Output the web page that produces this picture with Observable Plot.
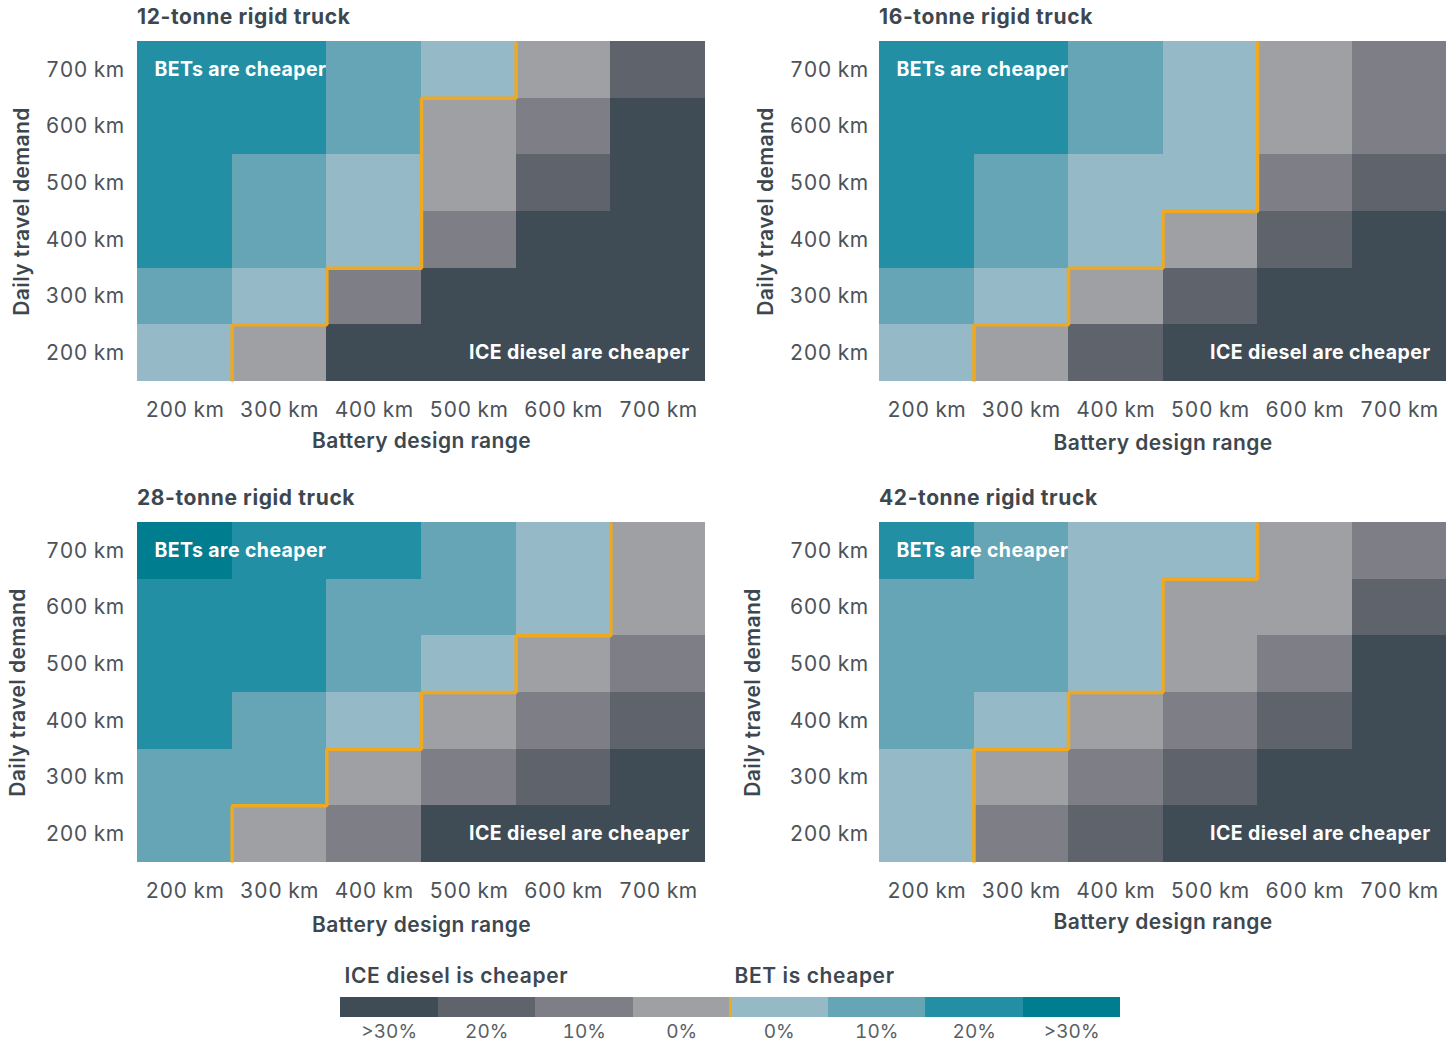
<!DOCTYPE html>
<html><head><meta charset="utf-8">
<script src="https://cdn.jsdelivr.net/npm/d3@7"></script>
<script src="https://cdn.jsdelivr.net/npm/@observablehq/plot@0.6"></script>
<style>
body{margin:0;background:#fff;font-family:Inter,sans-serif;}
#root{position:relative;width:1456px;height:1044px;overflow:hidden;}
.panel{position:absolute;}
.panel svg, #legend svg{display:block;}
.title{position:absolute;font-weight:700;font-size:21px;letter-spacing:0.6px;color:#3d4750;white-space:nowrap;line-height:24px;}
#legend{position:absolute;left:0;top:960px;}
</style></head><body><div id="root"></div>
<script>
// Battery design range (x) and daily travel demand (y), km
const ranges = [200, 300, 400, 500, 600, 700];
// Cost-difference classes: negative = ICE diesel cheaper, positive = BET cheaper
const levelCodes = [-4, -3, -2, -1, 1, 2, 3, 4];
const levelLabels = [">30%", "20%", "10%", "0%", "0%", "10%", "20%", ">30%"];
const levelColors = ["#3f4b55", "#5f636b", "#7e7e87", "#9fa0a4", "#96b9c8", "#65a5b5", "#238fa4", "#007d8f"];
const legendTitles = ["ICE diesel is cheaper", "BET is cheaper"];
const panelTitles = ["12-tonne rigid truck", "16-tonne rigid truck", "28-tonne rigid truck", "42-tonne rigid truck"];

// rows from 700 km demand (top) down to 200 km; columns battery 200..700 km
const truck12 = [
  [3, 3, 2, 1, -1, -3],
  [3, 3, 2, -1, -2, -4],
  [3, 2, 1, -1, -3, -4],
  [3, 2, 1, -2, -4, -4],
  [2, 1, -2, -4, -4, -4],
  [1, -1, -4, -4, -4, -4]
];
const truck16 = [
  [3, 3, 2, 1, -1, -2],
  [3, 3, 2, 1, -1, -2],
  [3, 2, 1, 1, -2, -3],
  [3, 2, 1, -1, -3, -4],
  [2, 1, -1, -3, -4, -4],
  [1, -1, -3, -4, -4, -4]
];
const truck28 = [
  [4, 3, 3, 2, 1, -1],
  [3, 3, 2, 2, 1, -1],
  [3, 3, 2, 1, -1, -2],
  [3, 2, 1, -1, -2, -3],
  [2, 2, -1, -2, -3, -4],
  [2, -1, -2, -4, -4, -4]
];
const truck42 = [
  [3, 2, 1, 1, -1, -2],
  [2, 2, 1, -1, -1, -3],
  [2, 2, 1, -1, -2, -4],
  [2, 1, -1, -2, -3, -4],
  [1, -1, -2, -3, -4, -4],
  [1, -2, -3, -4, -4, -4]
];

const ORANGE = "#f0a91e";
const DARK = "#3d4750";
const TICK = "#4d5359";
const FONT = "Inter";

function panel(values, o) {
  const step = ranges[1] - ranges[0];
  const cells = [];
  values.forEach((row, i) => {
    const demand = ranges[ranges.length - 1 - i];
    row.forEach((v, j) => cells.push({battery: ranges[j], demand, level: v}));
  });
  const boundary = [];
  ranges.forEach(d => {
    const n = cells.filter(c => c.demand === d && c.level > 0).length;
    const xb = ranges[0] - step / 2 + n * step;
    boundary.push({x: xb, y: d - step / 2}, {x: xb, y: d + step / 2});
  });
  const lo = ranges[0] - step / 2, hi = ranges[ranges.length - 1] + step / 2;
  return Plot.plot({
    width: 728, height: 470,
    marginTop: 41, marginBottom: 89, marginLeft: o.ml, marginRight: o.mr,
    style: {fontFamily: FONT, background: "transparent", letterSpacing: "0.4px"},
    x: {domain: [lo, hi]},
    y: {domain: [lo, hi]},
    color: {type: "ordinal", domain: levelCodes, range: levelColors},
    marks: [
      Plot.rect(cells, {x1: d => d.battery - step / 2, x2: d => d.battery + step / 2,
        y1: d => d.demand - step / 2, y2: d => d.demand + step / 2, fill: "level", shapeRendering: "crispEdges"}),
      Plot.line(boundary, {x: "x", y: "y", stroke: ORANGE, strokeWidth: 3.5, strokeLinejoin: "miter", strokeLinecap: "butt"}),
      Plot.text(["BETs are cheaper"], {x: lo, y: ranges[ranges.length - 1], textAnchor: "start", dx: 17, fill: "white", fontWeight: 700, fontSize: 19.5}),
      Plot.text(["ICE diesel are cheaper"], {x: hi, y: ranges[0], textAnchor: "end", dx: -16, fill: "white", fontWeight: 700, fontSize: 19.5}),
      Plot.axisX({ticks: ranges, tickFormat: d => `${d} km`, tickSize: 0, tickPadding: 21, fontSize: 21, fill: TICK, label: null}),
      Plot.axisY({ticks: ranges, tickFormat: d => `${d} km`, tickSize: 0, tickPadding: o.tp, fontSize: 21, fill: TICK, label: null}),
      Plot.text(["Battery design range"], {frameAnchor: "bottom", dy: o.xdy, fontSize: 21, fontWeight: 600, fill: DARK}),
      Plot.text(["Daily travel demand"], {frameAnchor: "left", textAnchor: "middle", dx: o.ydx, rotate: -90, fontSize: 21, fontWeight: 600, fill: DARK})
    ]
  });
}

const root = document.getElementById("root");
const specs = [
  {data: truck12, left: 0, top: 0, ml: 137, mr: 23, tp: 13, xdy: 66, ydx: -115},
  {data: truck16, left: 728, top: 0, ml: 151, mr: 10, tp: 11, xdy: 68, ydx: -113},
  {data: truck28, left: 0, top: 481, ml: 137, mr: 23, tp: 13, xdy: 69, ydx: -119},
  {data: truck42, left: 728, top: 481, ml: 151, mr: 10, tp: 11, xdy: 66, ydx: -126}
];
specs.forEach((s, i) => {
  const div = document.createElement("div");
  div.className = "panel";
  div.style.left = s.left + "px";
  div.style.top = s.top + "px";
  div.appendChild(panel(s.data, s));
  const t = document.createElement("div");
  t.className = "title";
  t.textContent = panelTitles[i];
  t.style.left = s.ml + "px";
  t.style.top = "5px";
  div.appendChild(t);
  root.appendChild(div);
});

// Legend
const legendData = levelCodes.map((c, i) => ({i, code: c, label: levelLabels[i]}));
const split = levelCodes.findIndex(c => c > 0);
const legend = Plot.plot({
  width: 1456, height: 84,
  marginTop: 37, marginBottom: 27, marginLeft: 340, marginRight: 336,
  style: {fontFamily: FONT, background: "transparent"},
  x: {domain: [0, levelCodes.length]},
  color: {type: "ordinal", domain: levelCodes, range: levelColors},
  marks: [
    Plot.rect(legendData, {x1: d => d.i, x2: d => d.i + 1, fill: "code", shapeRendering: "crispEdges"}),
    Plot.ruleX([split], {stroke: ORANGE, strokeWidth: 3}),
    Plot.axisX({ticks: legendData.map(d => d.i + 0.5), tickFormat: (d, k) => levelLabels[k], tickSize: 0, tickPadding: 7, fontSize: 19, fill: "#5a5f66", label: null}),
    Plot.text([{x: 0, t: legendTitles[0]}, {x: split, t: legendTitles[1]}], {x: "x", text: "t", frameAnchor: "top", dy: -29, dx: 4, textAnchor: "start", fontSize: 21, fontWeight: 600, fill: DARK})
  ]
});
legend.querySelectorAll("text").forEach(t => { if (legendTitles.includes(t.textContent)) t.style.letterSpacing = "0.6px"; });
const ld = document.createElement("div");
ld.id = "legend";
ld.appendChild(legend);
root.appendChild(ld);
</script>
</body></html>
